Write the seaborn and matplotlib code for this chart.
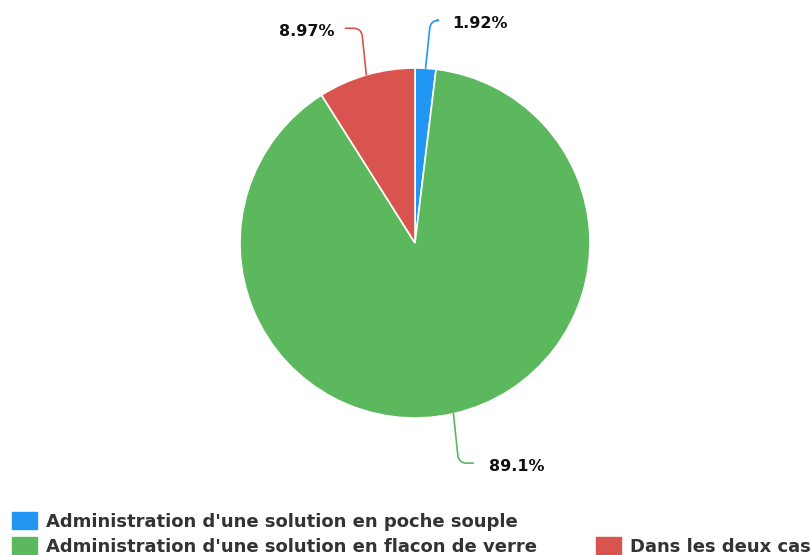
import numpy as np
import matplotlib
matplotlib.use("Agg")
import matplotlib.pyplot as plt
import seaborn as sns
from matplotlib.patches import Patch

categories = ["Administration d'une solution en poche souple",
              "Administration d'une solution en flacon de verre",
              "Dans les deux cas"]
shares = [1.92, 89.1, 8.97]
labels = ["1.92%", "89.1%", "8.97%"]
colors = ["#2196f3", "#5cb85c", "#d9534f"]
# label positions (data units, pie radius = 1)
label_pos = [(0.37, 1.255), (0.58, -1.275), (-0.62, 1.21)]

sns.set_style("white")
plt.rcParams['font.family'] = ['DejaVu Sans']

fig = plt.figure(figsize=(8.12, 5.55), dpi=100)
ax = fig.add_axes([240 / 812, 137 / 555, 350 / 812, 350 / 555])

wedges, _ = ax.pie(shares, colors=colors, startangle=90, counterclock=False,
                   wedgeprops=dict(edgecolor="white", linewidth=1.2))
ax.set_xlim(-1, 1)
ax.set_ylim(-1, 1)
ax.set_aspect("equal")
ax.axis("off")

for w, lab, (tx, ty), c in zip(wedges, labels, label_pos, colors):
    mid = np.deg2rad((w.theta1 + w.theta2) / 2)
    px, py = np.cos(mid), np.sin(mid)
    right = tx > 0
    angb = 84 if py > 0 else 96
    if not right:
        angb = 180 - angb
    ax.annotate(lab, xy=(px, py), xytext=(tx, ty),
                ha="center", va="center", fontsize=11.5, fontweight="bold",
                color="#111111", annotation_clip=False,
                arrowprops=dict(arrowstyle="-", color=c, lw=1.2,
                                shrinkA=0, shrinkB=0,
                                relpos=(-0.28, 0.7) if right else (1.2, 0.7),
                                connectionstyle="angle,angleA=0,angleB=%d,rad=8" % angb))

handles = [Patch(color=colors[0], label=categories[0]),
           Patch(color=colors[1], label=categories[1]),
           Patch(color="none", label=""),
           Patch(color=colors[2], label=categories[2])]
fig.legend(handles=handles, ncol=2, loc="upper left", bbox_to_anchor=(12 / 812, 43 / 555),
           frameon=False, prop=dict(size=13.0, weight="bold"), handlelength=1.4,
           handleheight=1.05, handletextpad=0.5, labelspacing=0.37, columnspacing=3.25,
           borderpad=0, borderaxespad=0, labelcolor="#333333")

fig.savefig("out.png", dpi=100)
